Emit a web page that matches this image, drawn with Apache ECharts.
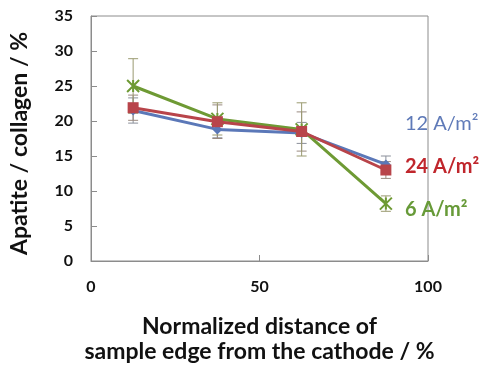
<!DOCTYPE html>
<html><head><meta charset="utf-8">
<script src="https://cdn.jsdelivr.net/npm/echarts@6/dist/echarts.min.js"></script>
<style>html,body{margin:0;padding:0;background:#fff}#c{width:489px;height:369px}</style>
</head><body><div id="c"></div>
<script>
const xPos = [12.5, 37.5, 62.5, 87.5];
const blueVals = [21.5, 18.8, 18.3, 13.8];
const redVals = [21.9, 19.9, 18.5, 13.0];
const greenVals = [25.0, 20.3, 18.8, 8.2];
const blueErr = [1.8, 1.2, 1.5, 1.2];
const redErr = [1.8, 2.4, 2.8, 1.2];
const greenErr = [3.9, 2.3, 3.8, 1.1];
const yTicks = [0, 5, 10, 15, 20, 25, 30, 35];
const xTicks = [0, 50, 100];
const seriesNames = ['12 A/m²', '24 A/m²', '6 A/m²'];

const FONT = 'Lato, "Open Sans", sans-serif';
const cBlue = '#5b78b8', cRed = '#b8444a', cGreen = '#6e9a34';

function pts(vals){ return xPos.map((x,i)=>[x, vals[i]]); }
function errData(vals, err){ return xPos.map((x,i)=>[x, vals[i]-err[i], vals[i]+err[i]]); }
function errSeries(vals, err, color){
  return {
    type:'custom', data: errData(vals, err), z: 1, silent:true,
    renderItem(params, api){
      const x = api.value(0);
      const lo = api.coord([x, api.value(1)]);
      const hi = api.coord([x, api.value(2)]);
      const w = 5;
      const st = {stroke: color, lineWidth: 1};
      return {type:'group', children:[
        {type:'line', shape:{x1:lo[0],y1:lo[1],x2:hi[0],y2:hi[1]}, style:st},
        {type:'line', shape:{x1:lo[0]-w,y1:lo[1],x2:lo[0]+w,y2:lo[1]}, style:st},
        {type:'line', shape:{x1:hi[0]-w,y1:hi[1],x2:hi[0]+w,y2:hi[1]}, style:st}
      ]};
    }
  };
}
const xMark = 'path://M0,0 L10,10 M10,0 L0,10 M5,0 L5,10';

const chart = echarts.init(document.getElementById('c'), null, {renderer:'canvas'});
chart.setOption({
  animation:false,
  grid:{left:91, right:61, top:16, bottom:107, show:true, borderColor:'#8c8c8c', borderWidth:1, backgroundColor:'transparent'},
  xAxis:{type:'value', min:xTicks[0], max:xTicks[xTicks.length-1], interval:50,
    axisLine:{show:true, lineStyle:{color:'#8c8c8c'}},
    axisTick:{show:true, inside:true, length:6, lineStyle:{color:'#8c8c8c'}},
    splitLine:{show:false},
    axisLabel:{color:'#111', fontFamily:FONT, fontWeight:'bold', fontSize:16, margin:18},
    name:'Normalized distance of\nsample edge from the cathode / %', nameLocation:'middle', nameGap:53,
    nameTextStyle:{color:'#111', fontFamily:FONT, fontWeight:'bold', fontSize:23, lineHeight:25}
  },
  yAxis:{type:'value', min:yTicks[0], max:yTicks[yTicks.length-1], interval:5,
    axisLine:{show:true, lineStyle:{color:'#8c8c8c'}},
    axisTick:{show:true, inside:true, length:6, lineStyle:{color:'#8c8c8c'}},
    splitLine:{show:false},
    axisLabel:{color:'#111', fontFamily:FONT, fontWeight:'bold', fontSize:16, margin:18},
    name:'Apatite / collagen / %', nameLocation:'middle', nameGap:60,
    nameTextStyle:{color:'#111', fontFamily:FONT, fontWeight:'bold', fontSize:23, padding:[0,10,0,0]}
  },
  series:[
    errSeries(blueVals, blueErr, '#8a8f9a'),
    errSeries(redVals, redErr, '#9a8a80'),
    errSeries(greenVals, greenErr, '#9a9a70'),
    {name:seriesNames[0], type:'line', data:pts(blueVals), z:3, symbol:'diamond', symbolSize:10,
      lineStyle:{color:cBlue, width:3}, itemStyle:{color:cBlue}},
    {name:seriesNames[2], type:'line', data:pts(greenVals), z:4, symbol:xMark, symbolSize:12,
      lineStyle:{color:cGreen, width:3}, itemStyle:{color:'none', borderColor:cGreen, borderWidth:2}},
    {name:seriesNames[1], type:'line', data:pts(redVals), z:5, symbol:'rect', symbolSize:11,
      lineStyle:{color:cRed, width:3}, itemStyle:{color:cRed}}
  ],
  graphic:[
    {type:'text', x:405, y:124, style:{text:seriesNames[0], fill:'#5f7ab8', font:'20px '+FONT, verticalAlign:'middle'}},
    {type:'text', x:405, y:167, style:{text:seriesNames[1], fill:'#c0262c', font:'bold 20px '+FONT, verticalAlign:'middle'}},
    {type:'text', x:405, y:210, style:{text:seriesNames[2], fill:'#679a38', font:'bold 20px '+FONT, verticalAlign:'middle'}}
  ]
});
</script></body></html>
